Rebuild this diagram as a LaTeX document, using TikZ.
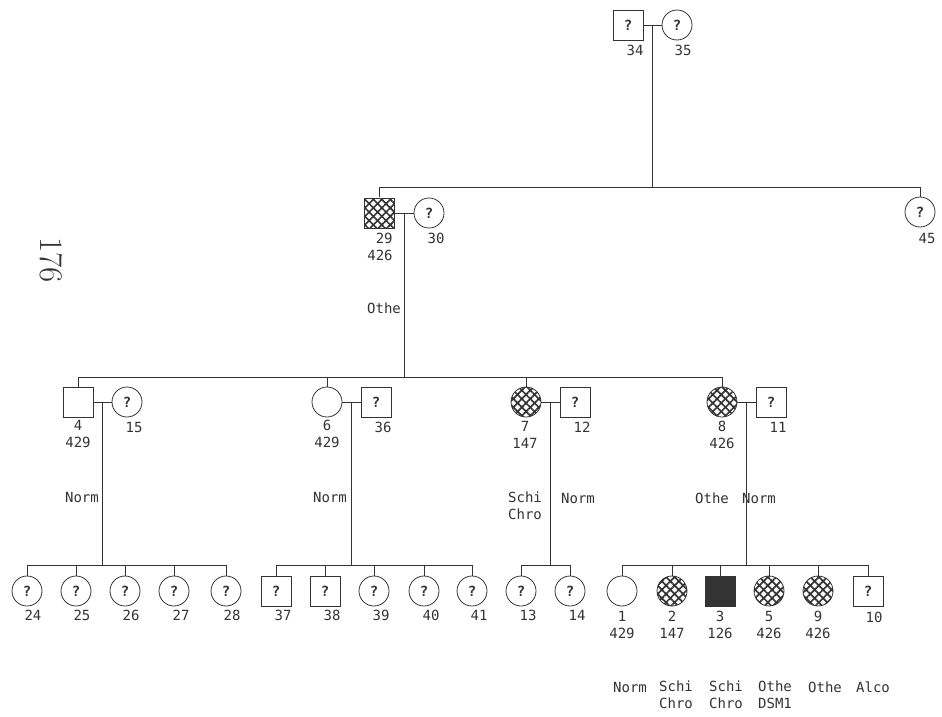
\documentclass[tikz,border=0pt]{standalone}
\usepackage{fontspec}
\newfontfamily\pedfont{DejaVu Sans Mono}
\usetikzlibrary{positioning,calc,patterns.meta}
\definecolor{ink}{HTML}{333333}

\begin{document}
\begin{tikzpicture}[x=1pt, y=-1pt,
    male/.style={rectangle, draw=ink, line width=0.8pt, minimum size=30pt, inner sep=0pt, text=ink, font=\pedfont\bfseries\fontsize{14}{14}\selectfont},
    female/.style={circle, draw=ink, line width=0.8pt, minimum size=30pt, inner sep=0pt, text=ink, font=\pedfont\bfseries\fontsize{14}{14}\selectfont},
    hatch/.style={pattern={Lines[angle=45, distance=6pt, line width=1.7pt]}, pattern color=ink,
        postaction={pattern={Lines[angle=-45, distance=6pt, line width=1.7pt]}, pattern color=ink}},
    affected/.style={fill=ink},
    tag/.style={font=\pedfont\fontsize{14}{16.5}\selectfont, text=ink, inner sep=0pt, align=center},
    link/.style={draw=ink, line width=0.7pt}
]
    \useasboundingbox (0,0) rectangle (942,717);

    % page number of the scan
    \node[font=\fontsize{33}{33}\selectfont, text=ink, rotate=-90] (page) at (51,260) {176};

    % generation I
    \node[male] (p34) at (628,25) {?};
    \node[female] (p35) at (677,25) {?};
    \node[tag] (l34) at (635,50) {34};
    \node[tag] (l35) at (683,50) {35};

    % generation II
    \node[male, hatch] (p29) at (379,213) {};
    \node[female] (p30) at (429,213) {?};
    \node[female] (p45) at (920,212) {?};
    \node[tag, align=right] (l29) at (380,247) {29\\426};
    \node[tag] (l30) at (436,238) {30};
    \node[tag] (l45) at (927,238) {45};
    \node[tag] (d29) at (384,308) {Othe};

    % generation III
    \node[male] (p4) at (78,402) {};
    \node[female] (p15) at (127,402) {?};
    \node[female] (p6) at (327,402) {};
    \node[male] (p36) at (376,402) {?};
    \node[female, hatch] (p7) at (526,402) {};
    \node[male] (p12) at (575,402) {?};
    \node[female, hatch] (p8) at (722,402) {};
    \node[male] (p11) at (771,402) {?};

    \node[tag] (l4) at (78,434) {4\\429};
    \node[tag] (l15) at (134,427) {15};
    \node[tag] (l6) at (327,434) {6\\429};
    \node[tag] (l36) at (383,427) {36};
    \node[tag] (l7) at (525,435) {7\\147};
    \node[tag] (l12) at (582,427) {12};
    \node[tag] (l8) at (722,435) {8\\426};
    \node[tag] (l11) at (778,427) {11};

    \node[tag] (d4) at (82,497) {Norm};
    \node[tag] (d6) at (330,497) {Norm};
    \node[tag] (d7) at (525,506) {Schi\\Chro};
    \node[tag] (d12) at (578,498) {Norm};
    \node[tag] (d8) at (712,498) {Othe};
    \node[tag] (d11) at (759,498) {Norm};

    % generation IV
    \node[female] (p24) at (27,591) {?};
    \node[female] (p25) at (76,591) {?};
    \node[female] (p26) at (125,591) {?};
    \node[female] (p27) at (174,591) {?};
    \node[female] (p28) at (226,591) {?};
    \node[male] (p37) at (276,591) {?};
    \node[male] (p38) at (325,591) {?};
    \node[female] (p39) at (374,591) {?};
    \node[female] (p40) at (424,591) {?};
    \node[female] (p41) at (472,591) {?};
    \node[female] (p13) at (521,591) {?};
    \node[female] (p14) at (570,591) {?};
    \node[female] (p1) at (622,591) {};
    \node[female, hatch] (p2) at (672,591) {};
    \node[male, affected] (p3) at (720,591) {};
    \node[female, hatch] (p5) at (769,591) {};
    \node[female, hatch] (p9) at (818,591) {};
    \node[male] (p10) at (868,591) {?};

    \node[tag] (l24) at (33,615) {24};
    \node[tag] (l25) at (82,615) {25};
    \node[tag] (l26) at (131,615) {26};
    \node[tag] (l27) at (181,615) {27};
    \node[tag] (l28) at (232,615) {28};
    \node[tag] (l37) at (283,615) {37};
    \node[tag] (l38) at (332,615) {38};
    \node[tag] (l39) at (381,615) {39};
    \node[tag] (l40) at (431,615) {40};
    \node[tag] (l41) at (479,615) {41};
    \node[tag] (l13) at (528,615) {13};
    \node[tag] (l14) at (577,615) {14};
    \node[tag] (l1) at (622,625) {1\\429};
    \node[tag] (l2) at (672,625) {2\\147};
    \node[tag] (l3) at (720,625) {3\\126};
    \node[tag] (l5) at (769,625) {5\\426};
    \node[tag] (l9) at (818,625) {9\\426};
    \node[tag] (l10) at (874,617) {10};

    \node[tag] (b1) at (630,687) {Norm};
    \node[tag] (b2) at (676,695) {Schi\\Chro};
    \node[tag] (b3) at (726,695) {Schi\\Chro};
    \node[tag] (b5) at (775,695) {Othe\\DSM1};
    \node[tag] (b9) at (825,687) {Othe};
    \node[tag] (b10) at (873,687) {Alco};

    % sibship levels
    \coordinate (s1) at (0,187);
    \coordinate (s2) at (0,377);
    \coordinate (s3) at (0,565);

    % marriages and descent lines
    \draw[link] (p34.east) -- (p35.west);
    \coordinate (m34) at ($(p34.east)!.5!(p35.west)$);
    \draw[link] (m34) -- (m34 |- s1);
    \draw[link] (p29.north |- s1) -- (p45.north |- s1);
    \foreach \c in {29,45}
        \draw[link] (p\c.north) -- (p\c.north |- s1);

    \draw[link] (p29.east) -- (p30.west);
    \coordinate (m29) at ($(p29.east)!.5!(p30.west)$);
    \draw[link] (m29) -- (m29 |- s2);
    \draw[link] (p4.north |- s2) -- (p8.north |- s2);
    \foreach \c in {4,6,7,8}
        \draw[link] (p\c.north) -- (p\c.north |- s2);

    \draw[link] (p4.east) -- (p15.west);
    \draw[link] (p6.east) -- (p36.west);
    \draw[link] (p7.east) -- (p12.west);
    \draw[link] (p8.east) -- (p11.west);
    \foreach \a/\b in {4/15, 6/36, 7/12, 8/11} {
        \coordinate (m\a) at ($(p\a.east)!.5!(p\b.west)$);
        \draw[link] (m\a) -- (m\a |- s3);
    }

    \draw[link] (p24.north |- s3) -- (p28.north |- s3);
    \draw[link] (p37.north |- s3) -- (p41.north |- s3);
    \draw[link] (p13.north |- s3) -- (p14.north |- s3);
    \draw[link] (p1.north |- s3) -- (p10.north |- s3);
    \foreach \c in {24,25,26,27,28,37,38,39,40,41,13,14,1,2,3,5,9,10}
        \draw[link] (p\c.north) -- (p\c.north |- s3);
\end{tikzpicture}
\end{document}
